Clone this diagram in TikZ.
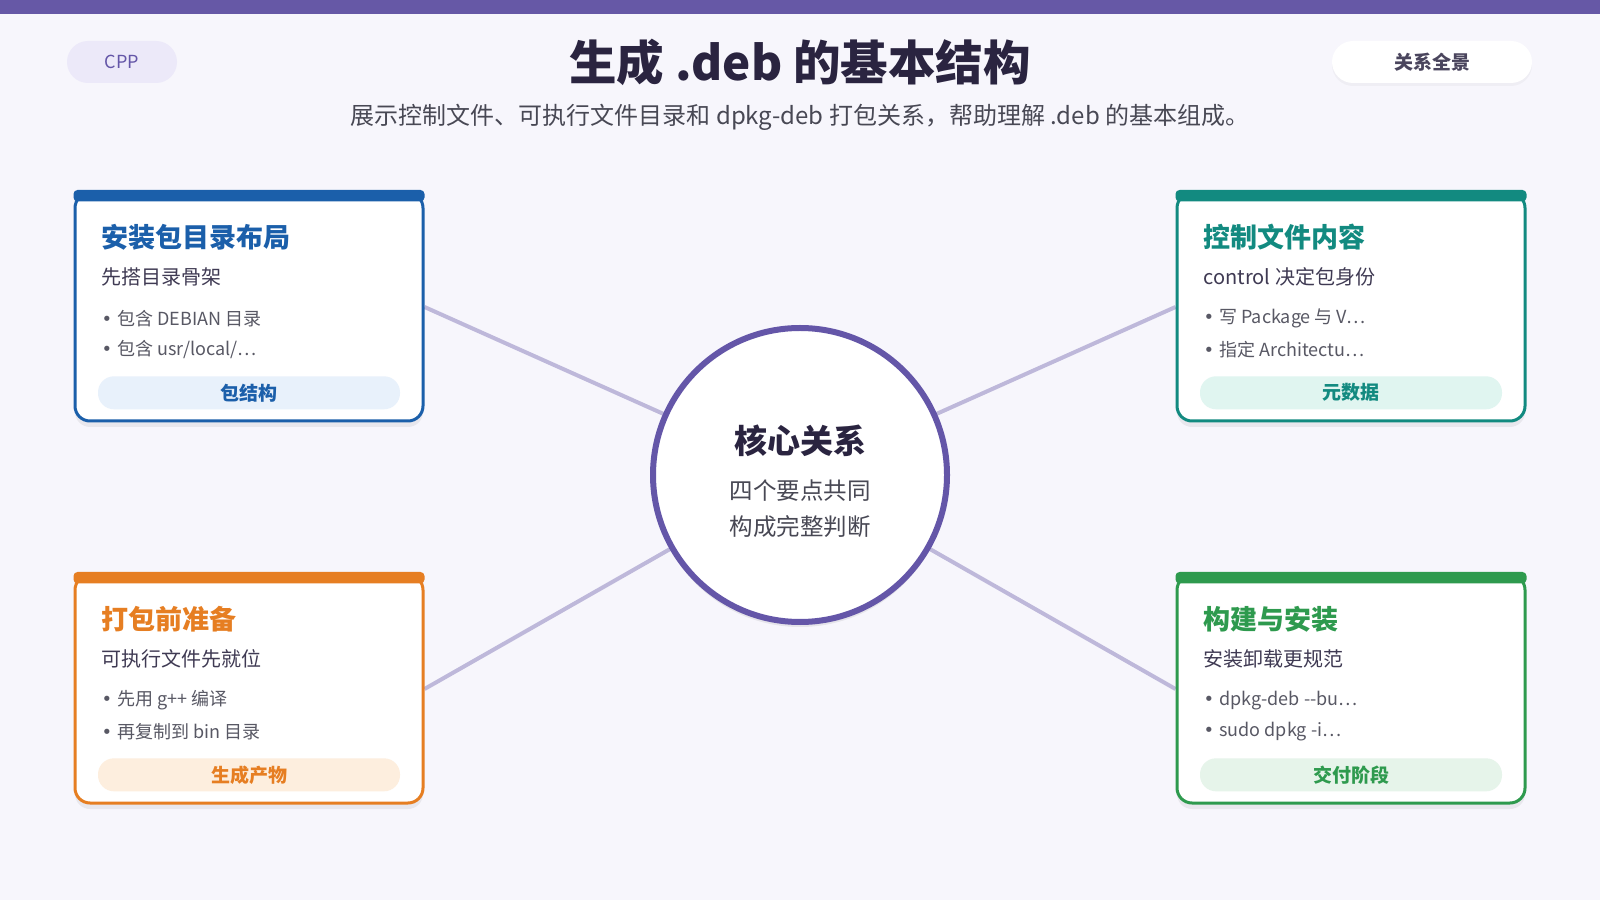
\documentclass[tikz,border=0pt]{standalone}
\usepackage{fontspec}
\setmainfont{Noto Sans CJK SC}
\newfontfamily\dotfont{DejaVu Sans}
\newcommand{\bul}{{\dotfont •}\hspace{5pt}}
\usepackage{tikz}
\usetikzlibrary{positioning,backgrounds,shadows}
\definecolor{pageBg}{RGB}{247,246,252}
\definecolor{barCol}{RGB}{102,88,166}
\definecolor{hubCol}{RGB}{100,86,168}
\definecolor{pillBg}{RGB}{236,233,249}
\definecolor{linkCol}{RGB}{190,184,218}
\definecolor{inkCol}{RGB}{42,36,64}
\definecolor{subCol}{RGB}{72,72,84}
\definecolor{itemCol}{RGB}{88,88,100}
\definecolor{blueCol}{RGB}{27,95,170}
\definecolor{blueLt}{RGB}{232,241,251}
\definecolor{tealCol}{RGB}{18,138,128}
\definecolor{tealLt}{RGB}{224,245,240}
\definecolor{orgCol}{RGB}{230,126,34}
\definecolor{orgLt}{RGB}{253,238,222}
\definecolor{grnCol}{RGB}{46,154,78}
\definecolor{grnLt}{RGB}{230,244,234}
\tikzset{
  card/.style={draw=#1,line width=3pt,fill=white,rounded corners=15pt,
               minimum width=348pt,minimum height=228pt,
               drop shadow={shadow xshift=0pt,shadow yshift=-6pt,opacity=.06,fill=black}},
  cardttl/.style={anchor=west,font=\fontsize{27}{31}\selectfont\bfseries},
  cardsub/.style={anchor=west,text=inkCol!90,font=\fontsize{20}{23}\selectfont},
  item/.style={anchor=west,text=itemCol,font=\fontsize{18}{21}\selectfont},
  tag/.style={rounded corners=16pt,minimum width=302pt,minimum height=33pt,
              font=\fontsize{19}{22}\selectfont\bfseries},
  pill/.style={rounded corners=21pt,minimum height=42pt},
  hub/.style={circle,draw=hubCol,line width=6pt,fill=white,minimum size=294pt,
              drop shadow={shadow xshift=0pt,shadow yshift=-5pt,opacity=.07,fill=black}},
  link/.style={draw=linkCol,line width=4pt},
}

\begin{document}
\begin{tikzpicture}[x=1pt,y=1pt,every node/.style={inner sep=0pt}]
  \useasboundingbox (0,0) rectangle (1600,900);
  \begin{scope}[on background layer]
    \fill[pageBg] (0,0) rectangle (1600,900);
  \end{scope}
  \fill[barCol] (0,886) rectangle (1600,900);
  % --- header ---
  \node[pill,fill=pillBg,text=hubCol,minimum width=110pt,font=\fontsize{18}{21}\selectfont] (cpp) at (122,838) {CPP};
  \node[pill,fill=white,text=inkCol!85,minimum width=200pt,font=\fontsize{19}{22}\selectfont\bfseries,
        drop shadow={shadow xshift=0pt,shadow yshift=-3pt,opacity=.03,fill=black}] (view) at (1432,838) {关系全景};
  \node[text=inkCol,font=\fontsize{47.5}{54}\selectfont\bfseries] (title) at (800,838) {生成 .deb 的基本结构};
  \node[text=subCol,font=\fontsize{24}{28}\selectfont] (subtitle) at (800,783)
      {展示控制文件、可执行文件目录和 dpkg-deb 打包关系，帮助理解 .deb 的基本组成。};
  % --- centre ---
  \node[hub] (hub) at (800,425) {};
  \node[text=inkCol,font=\fontsize{33}{37}\selectfont\bfseries] (hubT) at ([yshift=34pt]hub.center) {核心关系};
  \node[text=subCol,font=\fontsize{23.5}{27}\selectfont] (hubA) at ([yshift=-16pt]hub.center) {四个要点共同};
  \node[text=subCol,font=\fontsize{23.5}{27}\selectfont] (hubB) at ([yshift=-52pt]hub.center) {构成完整判断};
  % --- card: layout ---
  \node[card=blueCol] (cA) at (249,593) {};
  \fill[blueCol,rounded corners=4pt] ([yshift=1.5pt]cA.north west) rectangle ([yshift=-10pt]cA.north east);
  \node[cardttl,text=blueCol] (tA) at ([shift={(28,-46)}]cA.north west) {安装包目录布局};
  \node[cardsub,below=39pt of tA.west,anchor=west] (sA) {先搭目录骨架};
  \node[item,below=42pt of sA.west,anchor=west] (aA) {\bul 包含 DEBIAN 目录};
  \node[item,below=31pt of aA.west,anchor=west] (bA) {\bul 包含 usr/local/…};
  \node[tag,fill=blueLt,text=blueCol,above=13pt of cA.south] (gA) {包结构};
  % --- card: control ---
  \node[card=tealCol] (cB) at (1351,593) {};
  \fill[tealCol,rounded corners=4pt] ([yshift=1.5pt]cB.north west) rectangle ([yshift=-10pt]cB.north east);
  \node[cardttl,text=tealCol] (tB) at ([shift={(28,-46)}]cB.north west) {控制文件内容};
  \node[cardsub,below=39pt of tB.west,anchor=west] (sB) {control 决定包身份};
  \node[item,below=42pt of sB.west,anchor=west] (aB) {\bul 写 Package 与 V…};
  \node[item,below=31pt of aB.west,anchor=west] (bB) {\bul 指定 Architectu…};
  \node[tag,fill=tealLt,text=tealCol,above=13pt of cB.south] (gB) {元数据};
  % --- card: prepare ---
  \node[card=orgCol] (cC) at (249,211) {};
  \fill[orgCol,rounded corners=4pt] ([yshift=1.5pt]cC.north west) rectangle ([yshift=-10pt]cC.north east);
  \node[cardttl,text=orgCol] (tC) at ([shift={(28,-46)}]cC.north west) {打包前准备};
  \node[cardsub,below=39pt of tC.west,anchor=west] (sC) {可执行文件先就位};
  \node[item,below=42pt of sC.west,anchor=west] (aC) {\bul 先用 g++ 编译};
  \node[item,below=31pt of aC.west,anchor=west] (bC) {\bul 再复制到 bin 目录};
  \node[tag,fill=orgLt,text=orgCol,above=13pt of cC.south] (gC) {生成产物};
  % --- card: build ---
  \node[card=grnCol] (cD) at (1351,211) {};
  \fill[grnCol,rounded corners=4pt] ([yshift=1.5pt]cD.north west) rectangle ([yshift=-10pt]cD.north east);
  \node[cardttl,text=grnCol] (tD) at ([shift={(28,-46)}]cD.north west) {构建与安装};
  \node[cardsub,below=39pt of tD.west,anchor=west] (sD) {安装卸载更规范};
  \node[item,below=42pt of sD.west,anchor=west] (aD) {\bul dpkg-deb -{}-bu…};
  \node[item,below=31pt of aD.west,anchor=west] (bD) {\bul sudo dpkg -i…};
  \node[tag,fill=grnLt,text=grnCol,above=13pt of cD.south] (gD) {交付阶段};
  % --- links behind everything ---
  \begin{scope}[on background layer]
    \foreach \c in {cA,cC} \draw[link] (\c.east) -- (hub.center);
    \foreach \c in {cB,cD} \draw[link] (\c.west) -- (hub.center);
  \end{scope}
\end{tikzpicture}
\end{document}
